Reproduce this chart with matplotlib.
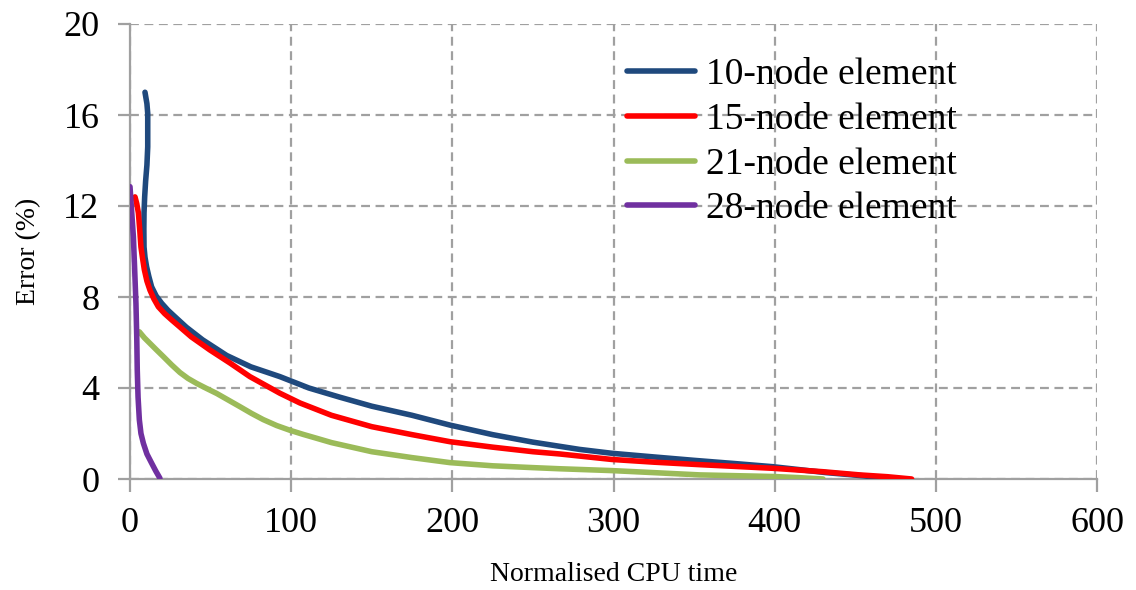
import matplotlib
matplotlib.use("Agg")
import matplotlib.pyplot as plt

plt.rcParams['font.family'] = ['Liberation Serif', 'DejaVu Serif']

# ---- data ----
series_labels = ["10-node element", "15-node element", "21-node element", "28-node element"]
series_colors = ["#1F497D", "#FF0000", "#9BBB59", "#7030A0"]

x10 = [9.3, 10.5, 11.0, 11.0, 10.5, 9.7, 9.1, 8.7, 8.6, 8.7, 9.3, 10.3, 11.7, 13.4, 16.2, 19.7, 23.5, 27.9,
       35, 45, 60, 75, 93, 111, 130, 150, 175, 198.5, 225, 250, 279, 299, 325, 350, 375, 399, 432, 455, 472]
y10 = [17.0, 16.5, 16.07, 14.6, 13.8, 13.1, 12.4, 11.7, 11.0, 10.2, 9.75, 9.33, 8.9, 8.45, 8.05, 7.72, 7.42, 7.13,
       6.67, 6.12, 5.43, 4.93, 4.5, 4.0, 3.6, 3.2, 2.8, 2.37, 1.95, 1.62, 1.3, 1.13, 0.97, 0.82, 0.68, 0.54, 0.28, 0.14, 0.0]

x15 = [3.1, 4.2, 5.2, 6.0, 6.8, 7.8, 8.9, 10.5, 12.4, 14.8, 17.6, 21.5, 25.9, 31, 38, 49.6, 62, 74.4, 93, 105.5, 125,
       150, 175, 198.5, 225, 250, 266.7, 298.8, 325, 353.6, 399, 430, 452.8, 470, 485]
y15 = [12.4, 12.1, 11.7, 11.0, 10.2, 9.7, 9.2, 8.7, 8.3, 7.92, 7.57, 7.27, 6.99, 6.68, 6.25, 5.67, 5.1, 4.5, 3.77, 3.34, 2.8,
       2.3, 1.95, 1.64, 1.4, 1.2, 1.1, 0.86, 0.74, 0.63, 0.47, 0.32, 0.18, 0.1, 0.0]

x21 = [5.8, 9.0, 12.4, 16.5, 20.7, 25.8, 31, 36, 41.4, 47.5, 53.8, 61, 68.2, 75.5, 82.7, 91, 99.3, 107.5, 115.8,
       125, 150, 175, 198.5, 225, 250, 266.7, 298.8, 325, 353.6, 399, 415, 430]
y21 = [6.47, 6.2, 5.96, 5.67, 5.38, 5.02, 4.68, 4.42, 4.2, 3.98, 3.76, 3.47, 3.18, 2.88, 2.61, 2.35, 2.14, 1.96, 1.79,
       1.6, 1.2, 0.94, 0.72, 0.58, 0.5, 0.45, 0.37, 0.28, 0.18, 0.11, 0.06, 0.0]

x28 = [0, 1.0, 2.1, 2.9, 3.7, 4.2, 4.5, 5.0, 5.8, 6.8, 8.3, 10.5, 13.4, 16, 18.6]
y28 = [12.85, 11.8, 10.65, 9.2, 7.7, 6.2, 4.8, 3.6, 2.6, 2.0, 1.57, 1.1, 0.7, 0.35, 0.03]

x_ticks = [0, 100, 200, 300, 400, 500, 600]
y_ticks = [0, 4, 8, 12, 16, 20]
x_label = "Normalised CPU time"
y_label = "Error (%)"

# ---- figure ----
fig = plt.figure(figsize=(11.36, 5.90), dpi=100)
ax = fig.add_axes([130 / 1136, 1 - 479 / 590, 967 / 1136, 455 / 590])

grid_color = "#A0A0A0"
for xs, ys, lab, col in zip([x10, x15, x21, x28], [y10, y15, y21, y28], series_labels, series_colors):
    ax.plot(xs, ys, color=col, lw=4, label=lab, solid_capstyle="round", solid_joinstyle="round", zorder=3)

ax.set_xlim(0, 600)
ax.set_ylim(0, 20)
ax.set_xticks(x_ticks)
ax.set_yticks(y_ticks)
ax.grid(True, color=grid_color, linestyle=(0, (4, 2.5)), linewidth=1.6, zorder=0)
ax.set_axisbelow(True)
for s in ["top", "right"]:
    ax.spines[s].set_visible(False)
for s in ["left", "bottom"]:
    ax.spines[s].set_color(grid_color)
    ax.spines[s].set_linewidth(1.6)
ax.tick_params(axis="both", direction="out", length=9, width=1.6, color=grid_color,
               labelsize=26, labelcolor="black")
ax.tick_params(axis="y", pad=13)
ax.tick_params(axis="x", pad=11)
ax.set_xlabel(x_label, fontsize=20, labelpad=16)
ax.set_ylabel(y_label, fontsize=20, labelpad=16)

leg = ax.legend(loc="upper left", bbox_to_anchor=((627 - 130) / 967, (479 - 58) / 455),
                frameon=False, fontsize=27, handlelength=1.8, handletextpad=0.3,
                labelspacing=0.27, borderpad=0, borderaxespad=0)
for h in leg.get_lines():
    h.set_linewidth(4)
    h.set_solid_capstyle("round")

fig.savefig("out.png", dpi=100)
